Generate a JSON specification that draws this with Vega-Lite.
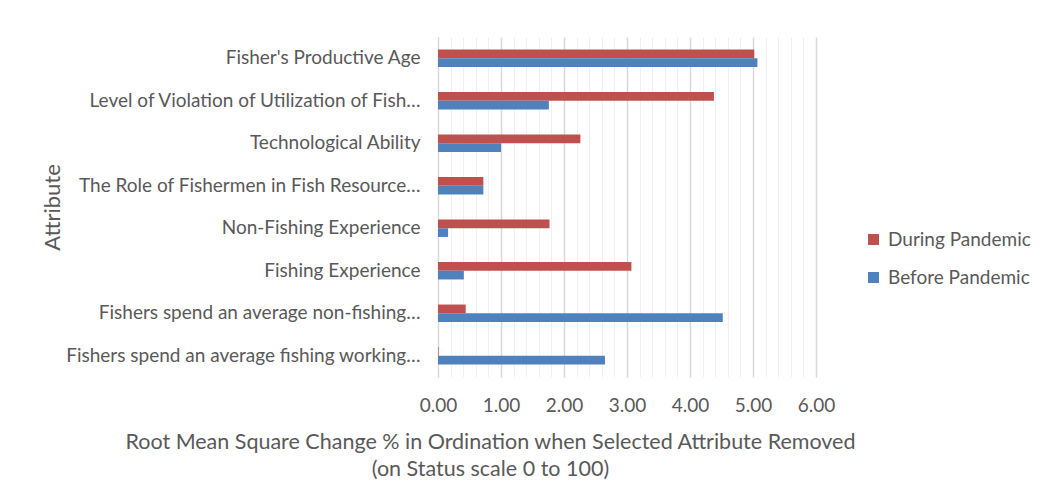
{
  "$schema": "https://vega.github.io/schema/vega-lite/v6.json",
  "autosize": "none",
  "width": 378,
  "height": 340,
  "padding": {"left": 438, "top": 37, "right": 238, "bottom": 123},
  "background": "white",
  "config": {
    "font": "Lato",
    "view": {"stroke": null},
    "axis": {"labelColor": "#595959", "titleColor": "#595959", "titleFontWeight": "normal"},
    "legend": {"labelColor": "#595959"}
  },
  "data": {
    "values": [
      {"attr": "Fisher's Productive Age", "period": "During Pandemic", "v": 5.02},
      {"attr": "Fisher's Productive Age", "period": "Before Pandemic", "v": 5.07},
      {"attr": "Level of Violation of Utilization of Fish…", "period": "During Pandemic", "v": 4.38},
      {"attr": "Level of Violation of Utilization of Fish…", "period": "Before Pandemic", "v": 1.76},
      {"attr": "Technological Ability", "period": "During Pandemic", "v": 2.26},
      {"attr": "Technological Ability", "period": "Before Pandemic", "v": 1.0},
      {"attr": "The Role of Fishermen in Fish Resource…", "period": "During Pandemic", "v": 0.72},
      {"attr": "The Role of Fishermen in Fish Resource…", "period": "Before Pandemic", "v": 0.72},
      {"attr": "Non-Fishing Experience", "period": "During Pandemic", "v": 1.77},
      {"attr": "Non-Fishing Experience", "period": "Before Pandemic", "v": 0.16},
      {"attr": "Fishing Experience", "period": "During Pandemic", "v": 3.07},
      {"attr": "Fishing Experience", "period": "Before Pandemic", "v": 0.41},
      {"attr": "Fishers spend an average non-fishing…", "period": "During Pandemic", "v": 0.44},
      {"attr": "Fishers spend an average non-fishing…", "period": "Before Pandemic", "v": 4.52},
      {"attr": "Fishers spend an average fishing working…", "period": "During Pandemic", "v": 0.01},
      {"attr": "Fishers spend an average fishing working…", "period": "Before Pandemic", "v": 2.65}
    ]
  },
  "mark": {"type": "bar"},
  "encoding": {
    "y": {
      "field": "attr",
      "type": "nominal",
      "sort": [
        "Fisher's Productive Age",
        "Level of Violation of Utilization of Fish…",
        "Technological Ability",
        "The Role of Fishermen in Fish Resource…",
        "Non-Fishing Experience",
        "Fishing Experience",
        "Fishers spend an average non-fishing…",
        "Fishers spend an average fishing working…"
      ],
      "scale": {"paddingInner": 0.59, "paddingOuter": 0.295},
      "axis": {
        "title": "Attribute",
        "titleFontSize": 22,
        "titleX": -386,
        "titleY": 170,
        "titleAngle": -90,
        "titleAlign": "center",
        "titleBaseline": "middle",
        "labelFontSize": 19,
        "labelPadding": 18,
        "labelLimit": 420,
        "ticks": false,
        "domain": true,
        "domainColor": "#d9d9d9",
        "domainWidth": 1
      }
    },
    "yOffset": {
      "field": "period",
      "type": "nominal",
      "sort": ["During Pandemic", "Before Pandemic"]
    },
    "x": {
      "field": "v",
      "type": "quantitative",
      "scale": {"domain": [0, 6], "nice": false},
      "axis": {
        "values": [0, 0.2, 0.4, 0.6, 0.8, 1, 1.2, 1.4, 1.6, 1.8, 2, 2.2, 2.4, 2.6, 2.8, 3, 3.2, 3.4, 3.6, 3.8, 4, 4.2, 4.4, 4.6, 4.8, 5, 5.2, 5.4, 5.6, 5.8, 6],
        "labelExpr": "abs(datum.value - round(datum.value)) < 0.001 ? format(datum.value, '.2f') : ''",
        "labelFlush": false,
        "labelOverlap": false,
        "grid": true,
        "gridColor": {"condition": {"test": "abs(datum.value - round(datum.value)) < 0.001", "value": "#d9d9d9"}, "value": "#f0f0f0"},
        "gridWidth": {"condition": {"test": "abs(datum.value - round(datum.value)) < 0.001", "value": 1.5}, "value": 1},
        "domain": false,
        "ticks": false,
        "labelFontSize": 19,
        "labelPadding": 19,
        "title": ["Root Mean Square Change % in Ordination when Selected Attribute Removed", "(on Status scale 0 to 100)"],
        "titleFontSize": 21.5,
        "titleX": 52,
        "titleY": 54,
        "titleAlign": "center",
        "titleBaseline": "top",
        "titleLineHeight": 27
      }
    },
    "color": {
      "field": "period",
      "type": "nominal",
      "scale": {"domain": ["During Pandemic", "Before Pandemic"], "range": ["#C0504D", "#4F81BD"]},
      "legend": {
        "title": null,
        "orient": "none",
        "legendX": 426,
        "legendY": 193,
        "symbolType": "square",
        "symbolSize": 120,
        "symbolStrokeWidth": 0,
        "labelFontSize": 19,
        "rowPadding": 18,
        "labelOffset": 5
      }
    }
  }
}
